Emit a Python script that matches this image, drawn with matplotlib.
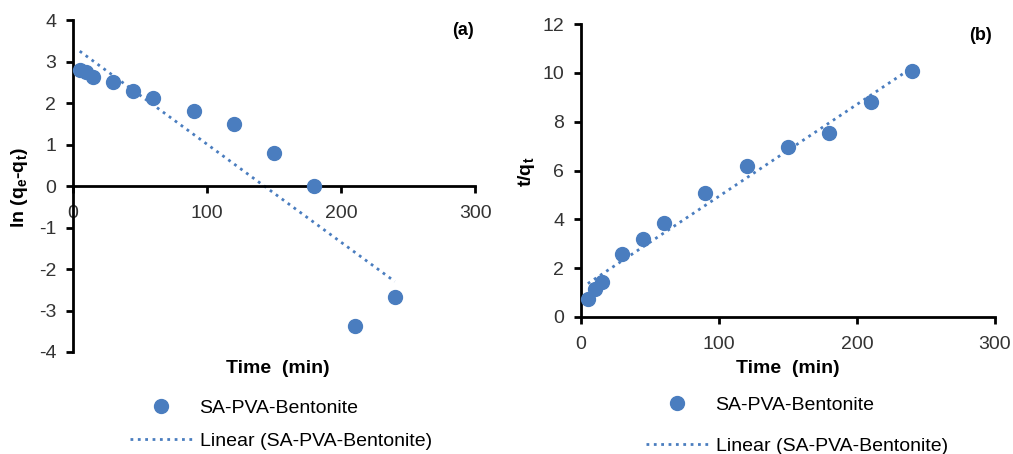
import numpy as np
import matplotlib.pyplot as plt

plt.rcParams['font.family'] = ['Liberation Sans', 'DejaVu Sans']
plt.rcParams['axes.unicode_minus'] = False

time_min = [5, 10, 15, 30, 45, 60, 90, 120, 150, 180, 210, 240]
ln_qe_qt = [2.8, 2.75, 2.62, 2.5, 2.3, 2.13, 1.8, 1.5, 0.8, 0.0, -3.38, -2.67]
t_over_qt = [0.72, 1.15, 1.45, 2.57, 3.2, 3.87, 5.1, 6.2, 6.95, 7.55, 8.8, 10.1]

blue = '#4a7dbf'

fig = plt.figure(figsize=(10.13, 4.54), dpi=100)
ax1 = fig.add_axes([0.0721, 0.2247, 0.397, 0.731])
ax2 = fig.add_axes([0.5735, 0.3018, 0.4087, 0.645])


def style(ax):
    for s in ['top', 'right']:
        ax.spines[s].set_visible(False)
    for s in ['left', 'bottom']:
        ax.spines[s].set_linewidth(2)
    ax.tick_params(direction='out', length=5, width=2, labelsize=14,
                   colors='black', labelcolor='#333333')
    ax.tick_params(axis='x', pad=9)
    ax.tick_params(axis='y', pad=7)


def draw(ax, y):
    x = np.array(time_min, dtype=float)
    y = np.array(y, dtype=float)
    k, b = np.polyfit(x, y, 1)
    ax.plot(x, y, 'o', color=blue, markersize=10, label='SA-PVA-Bentonite',
            clip_on=False, zorder=3)
    xf = np.array([x.min(), x.max()])
    ax.plot(xf, k * xf + b, ':', color=blue, linewidth=2,
            label='Linear (SA-PVA-Bentonite)')


# (a) pseudo-first order
draw(ax1, ln_qe_qt)
style(ax1)
ax1.set_xlim(0, 300)
ax1.set_ylim(-4, 4)
ax1.set_xticks(np.arange(0, 301, 100))
ax1.set_yticks(np.arange(-4, 5, 1))
ax1.spines['bottom'].set_position(('data', 0))
ax1.set_xlabel('Time  (min)', fontsize=14, fontweight='bold')
ax1.xaxis.set_label_coords(0.51, -0.024)
ax1.set_ylabel('ln (q$_\\mathregular{e}$-q$_\\mathregular{t}$)', fontsize=14, fontweight='bold')
ax1.yaxis.set_label_coords(-0.107, 0.494)
ax1.text(0.97, 0.97, '(a)', transform=ax1.transAxes, fontsize=13,
         fontweight='bold', ha='center', va='center')
ax1.legend(loc='upper left', bbox_to_anchor=(112 / 1013, 1 - 382 / 454),
           bbox_transform=fig.transFigure, frameon=False, fontsize=14,
           handlelength=3.2, handletextpad=0.4, labelspacing=0.8)

# (b) pseudo-second order
draw(ax2, t_over_qt)
style(ax2)
ax2.set_xlim(0, 300)
ax2.set_ylim(0, 12)
ax2.set_xticks(np.arange(0, 301, 100))
ax2.set_yticks(np.arange(0, 13, 2))
ax2.set_xlabel('Time  (min)', fontsize=14, fontweight='bold')
ax2.xaxis.set_label_coords(0.5, -0.147)
ax2.set_ylabel('t/q$_\\mathregular{t}$', fontsize=14, fontweight='bold')
ax2.yaxis.set_label_coords(-0.106, 0.495)
ax2.text(0.964, 0.962, '(b)', transform=ax2.transAxes, fontsize=13,
         fontweight='bold', ha='center', va='center')
ax2.legend(loc='upper left', bbox_to_anchor=(628 / 1013, 1 - 379 / 454),
           bbox_transform=fig.transFigure, frameon=False, fontsize=14,
           handlelength=3.2, handletextpad=0.4, labelspacing=1.2)

fig.savefig('out.png', dpi=100)
